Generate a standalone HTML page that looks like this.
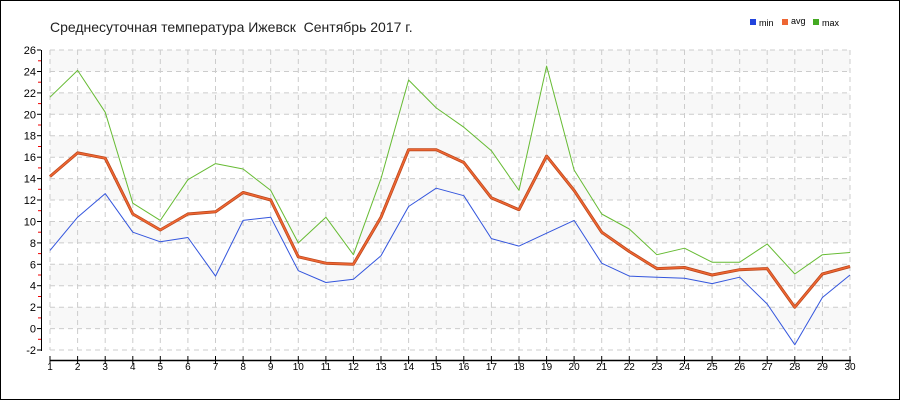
<!DOCTYPE html>
<html><head><meta charset="utf-8"><style>
html,body{margin:0;padding:0;background:#fff}
svg{display:block}
text{font-family:"Liberation Sans",sans-serif}
</style></head><body>
<svg id="c" width="900" height="400" xmlns="http://www.w3.org/2000/svg"></svg>
<script>
const mx=[21.6,24.1,20.2,11.7,10.1,13.9,15.4,14.9,12.9,8.0,10.4,6.9,14.0,23.2,20.6,18.8,16.6,12.9,24.5,14.8,10.7,9.3,6.9,7.5,6.2,6.2,7.9,5.1,6.9,7.1];
const av=[14.2,16.4,15.9,10.7,9.2,10.7,10.9,12.7,12.0,6.7,6.1,6.0,10.4,16.7,16.7,15.5,12.2,11.1,16.1,12.9,9.0,7.2,5.6,5.7,5.0,5.5,5.6,2.0,5.1,5.8];
const mn=[7.3,10.4,12.6,9.0,8.1,8.5,4.9,10.1,10.4,5.4,4.3,4.6,6.8,11.4,13.1,12.4,8.4,7.7,8.9,10.1,6.1,4.9,4.8,4.7,4.2,4.8,2.3,-1.5,2.9,5.0];
const X=i=>50+i*800/29, Y=v=>328.6-v*10.714;
let s='<rect x="0.5" y="0.5" width="899" height="399" fill="#fff" stroke="#000"/>';
for(let v=0;v<26;v+=4){s+=`<rect x="50" y="${Y(v+2)}" width="800" height="${Y(v)-Y(v+2)}" fill="#f8f8f8"/>`;}
for(let v=-2;v<=26;v+=2){const y=Y(v).toFixed(1);s+=`<line x1="50" x2="850" y1="${y}" y2="${y}" stroke="#ccc" stroke-dasharray="5,4"/>`;
s+=`<line x1="37" x2="41" y1="${y}" y2="${y}" stroke="#000"/><text x="36" y="${+y+4}" font-size="11" text-anchor="end">${v}</text>`;
if(v<26){const y2=Y(v+1).toFixed(1);s+=`<line x1="38" x2="41" y1="${y2}" y2="${y2}" stroke="#e00"/>`;}}
for(let i=0;i<30;i++){const x=X(i).toFixed(1);s+=`<line x1="${x}" x2="${x}" y1="50" y2="350" stroke="#ccc" stroke-dasharray="5,4"/>`;
s+=`<line x1="${x}" x2="${x}" y1="356" y2="364" stroke="#000"/><text x="${x}" y="370" font-size="10" text-anchor="middle">${i+1}</text>`;}
s+=`<line x1="41.5" x2="41.5" y1="50" y2="351" stroke="#000"/><line x1="50" x2="851" y1="360.5" y2="360.5" stroke="#000" stroke-width="1.5"/>`;
const pl=(d,c,w)=>`<polyline fill="none" stroke="${c}" stroke-width="${w}" stroke-linejoin="round" points="${d.map((v,i)=>X(i).toFixed(1)+','+Y(v).toFixed(1)).join(' ')}"/>`;
s+=pl(mx,'#66bb33',1)+pl(mn,'#3355dd',1)+pl(av,'#b84418',3)+pl(av,'#ee6633',1.6);
s+=`<text x="50" y="32" font-size="14" fill="#222" xml:space="preserve">Среднесуточная температура Ижевск  Сентябрь 2017 г.</text>`;
s+=`<rect x="750" y="19" width="6" height="6" fill="#2244dd"/><text x="759" y="26" font-size="9">min</text>`;
s+=`<rect x="782" y="19" width="6" height="6" fill="#ee6633"/><text x="791" y="24" font-size="9">avg</text>`;
s+=`<rect x="813" y="19" width="6" height="6" fill="#44aa22"/><text x="822" y="26" font-size="9">max</text>`;
document.getElementById('c').innerHTML=s;
</script>
</body></html>
